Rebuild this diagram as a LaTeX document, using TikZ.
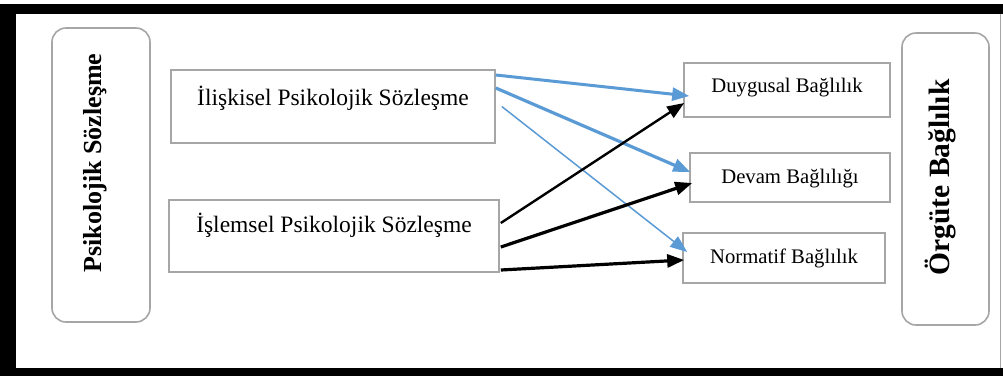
\documentclass[tikz,border=0pt]{standalone}
\usepackage{fontspec}
\setmainfont{Liberation Serif}
\usetikzlibrary{arrows.meta}
\definecolor{boxgray}{HTML}{A6A6A6}
\definecolor{arrowblue}{HTML}{5B9BD5}
\begin{document}
\begin{tikzpicture}[x=1pt,y=-1pt,
  box/.style={draw=boxgray, line width=1.6pt, fill=white, inner sep=0pt, align=center},
  leftbox/.style={box, font=\fontsize{23.5}{26}\selectfont},
  rightbox/.style={box, font=\fontsize{20.7}{23}\selectfont},
  sidebox/.style={draw=boxgray, line width=1.6pt, fill=white, rounded corners=14pt, inner sep=0pt},
  vlabel/.style={rotate=90, anchor=base, inner sep=0pt, font=\fontsize{26}{30}\selectfont\bfseries},
  arr/.style={-{Triangle[length=17pt,width=13pt]}},
  bluearr/.style={arr, draw=arrowblue, fill=arrowblue},
  blackarr/.style={arr, draw=black, fill=black}
]
\useasboundingbox (0,0) rectangle (1003,376);
% frame
\fill[black] (0,4) rectangle (1003,376);
\fill[white] (16,14) rectangle (1003,368);
\draw[boxgray, line width=1pt] (1000.5,14) -- (1000.5,368);

% side boxes
\node[sidebox, minimum width=98pt, minimum height=294pt] (ps) at (101,175) {};
\node[vlabel] (pst) at (101.5,163) {Psikolojik Sözleşme};
\node[sidebox, minimum width=87pt, minimum height=292pt] (ob) at (945.5,179) {};
\node[vlabel, font=\fontsize{29.5}{33}\selectfont\bfseries] (obt) at (949,177.5) {Örgüte Bağlılık};

% left boxes
\node[leftbox, minimum width=324pt, text height=35pt, text depth=38pt] (b1) at (333,106.5) {İlişkisel Psikolojik Sözleşme};
\node[leftbox, minimum width=330pt, text height=32pt, text depth=40pt] (b2) at (334,236) {İşlemsel Psikolojik Sözleşme};

% right boxes
\node[rightbox, minimum width=206pt, text height=29pt, text depth=25pt] (d1) at (787,90) {Duygusal Bağlılık};
\node[rightbox, minimum width=200pt, text height=30pt, text depth=19pt] (d2) at (790,177.5) {Devam Bağlılığı};
\node[rightbox, minimum width=202pt, text height=30pt, text depth=20pt] (d3) at (784,258) {Normatif Bağlılık};

% blue arrows
\draw[bluearr, line width=3pt] ([yshift=31.5pt]b1.east) -- ([xshift=6pt,yshift=-6pt]d1.west);
\draw[bluearr, line width=3.2pt] ([yshift=18.5pt]b1.east) -- ([xshift=1pt,yshift=5.5pt]d2.west);
\draw[bluearr, line width=1.5pt] ([xshift=6pt]b1.east) -- ([xshift=5pt,yshift=6pt]d3.west);

% black arrows
\draw[blackarr, line width=2.4pt] ([xshift=1pt,yshift=13pt]b2.east) -- ([xshift=1pt,yshift=-13pt]d1.west);
\draw[blackarr, line width=3.2pt] ([xshift=1pt,yshift=-11pt]b2.east) -- ([xshift=3pt,yshift=-5.5pt]d2.west);
\draw[blackarr, line width=3.2pt] ([xshift=1pt,yshift=-34pt]b2.east) -- ([xshift=2pt,yshift=-2pt]d3.west);
\end{tikzpicture}
\end{document}
